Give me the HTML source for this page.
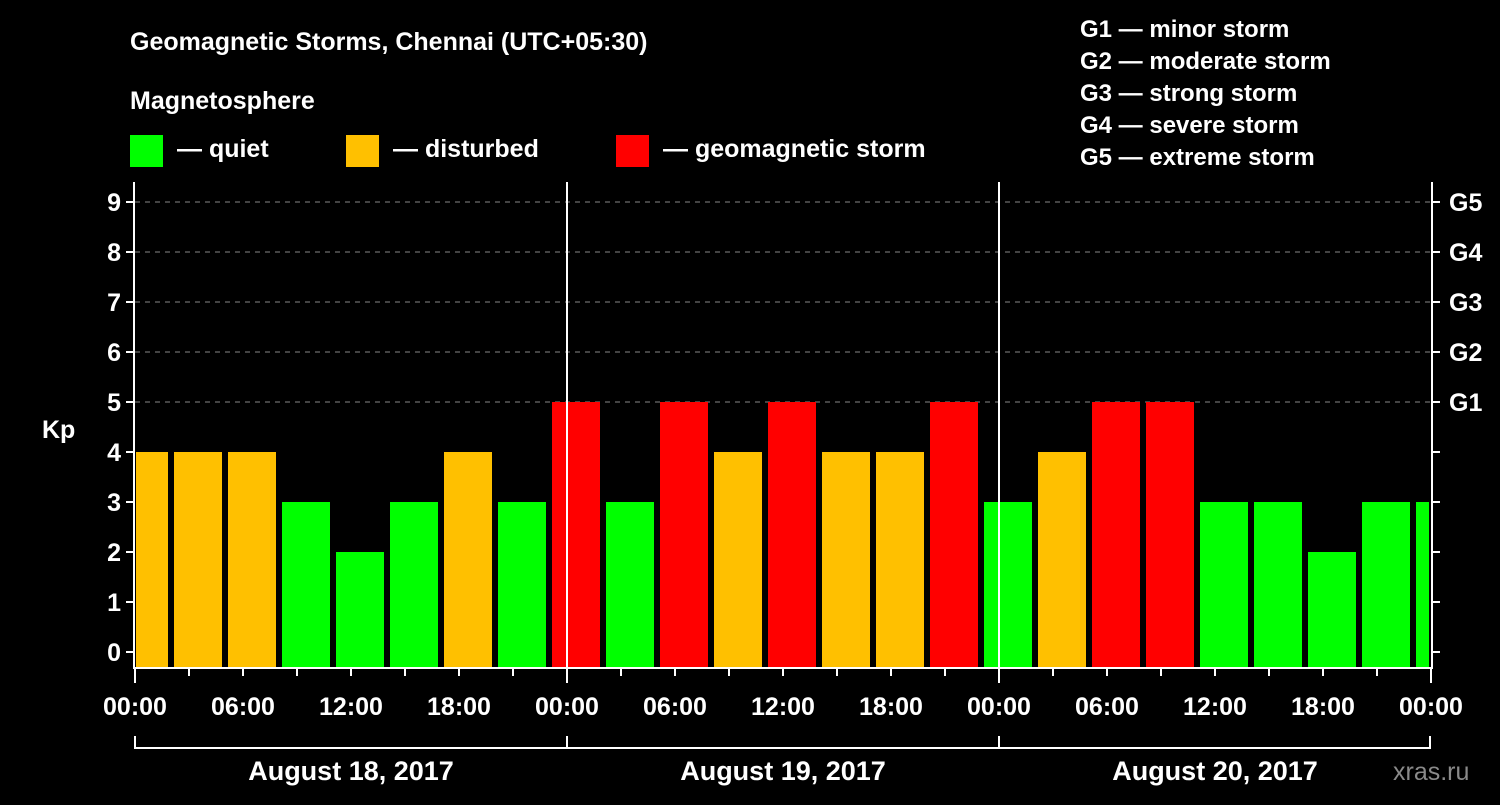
<!DOCTYPE html>
<html><head><meta charset="utf-8"><style>
body{margin:0;background:#000;width:1500px;height:800px;overflow:hidden}
svg text{font-family:"Liberation Sans",sans-serif;font-weight:bold;fill:#fff}
</style></head><body>
<svg id="chart" width="1500" height="800" viewBox="0 0 1500 800">
<text x="130" y="50" font-size="25">Geomagnetic Storms, Chennai (UTC+05:30)</text>
<text x="130" y="109" font-size="25">Magnetosphere</text>
<g>
<rect x="130" y="135" width="33" height="32" fill="#00ff00"/>
<text x="177" y="157" font-size="25">— quiet</text>
<rect x="346" y="135" width="33" height="32" fill="#ffc000"/>
<text x="393" y="157" font-size="25">— disturbed</text>
<rect x="616" y="135" width="33" height="32" fill="#ff0000"/>
<text x="663" y="157" font-size="25">— geomagnetic storm</text>
</g>
<g font-size="24">
<text x="1080" y="37">G1 — minor storm</text>
<text x="1080" y="69">G2 — moderate storm</text>
<text x="1080" y="101">G3 — strong storm</text>
<text x="1080" y="133">G4 — severe storm</text>
<text x="1080" y="165">G5 — extreme storm</text>
</g>
<text x="42" y="438" font-size="25">Kp</text>
<text x="1393" y="780" font-size="25" fill="#888" style="fill:#8a8a8a;font-weight:normal">xras.ru</text>
<g id="plot"></g>
</svg>
<script>
const kpValues=[4,4,4,3,2,3,4,3, 5,3,5,4,5,4,4,5, 3,4,5,5,3,3,2,3, 3];
const yTicks=[0,1,2,3,4,5,6,7,8,9];
const gLabels=["G1","G2","G3","G4","G5"];
const gLevels=[5,6,7,8,9];
const xTickLabels=["00:00","06:00","12:00","18:00","00:00","06:00","12:00","18:00","00:00","06:00","12:00","18:00","00:00"];
const dayLabels=["August 18, 2017","August 19, 2017","August 20, 2017"];
const NS="http://www.w3.org/2000/svg";
const X0=135,X1=1431,PX_H=18,Y0=652,PX_K=50,TOP=182,BOT=668;
const xs=h=>X0+h*PX_H, ys=k=>Y0-k*PX_K;
const g=document.getElementById('plot');
function mk(t,a,p){const e=document.createElementNS(NS,t);for(const k in a)e.setAttribute(k,a[k]);(p||g).appendChild(e);return e;}
// grid
gLevels.forEach(k=>{const l=mk('line',{x1:X0,x2:X1,y1:ys(k),y2:ys(k),stroke:'#888','stroke-dasharray':'5,5','stroke-width':1});

});
// bars
kpValues.forEach((v,i)=>{const l=Math.max(xs(3*i)-15,X0+1),r=Math.min(xs(3*i)+33,X1-2);
const c=v>=5?'#ff0000':v>=4?'#ffc000':'#00ff00';
const b=mk('rect',{x:l,y:ys(v),width:r-l,height:BOT-ys(v),fill:c});

});
// day dividers
[1,2].forEach(d=>{const l=mk('line',{x1:xs(24*d),x2:xs(24*d),y1:TOP,y2:BOT,stroke:'#fff','stroke-width':2});

});
// frame
const f=mk('path',{d:`M${X0-1} ${TOP}V${BOT}H${X1+1}V${TOP}`,fill:'none',stroke:'#fff','stroke-width':2});


// y ticks
yTicks.forEach(k=>{const y=ys(k);
const t1=mk('line',{x1:X0-9,x2:X0,y1:y,y2:y,stroke:'#fff','stroke-width':2});


const t2=mk('line',{x1:X1,x2:X1+9,y1:y,y2:y,stroke:'#fff','stroke-width':2});


const tx=mk('text',{x:X0-14,y:y+9,'font-size':25,'text-anchor':'end'});tx.textContent=k;

});
gLevels.forEach((k,i)=>{const tx=mk('text',{x:X1+18,y:ys(k)+9,'font-size':25});tx.textContent=gLabels[i];

});
// x ticks
for(let h=0;h<=72;h+=3){const big=h%24===0;
const t=mk('line',{x1:xs(h),x2:xs(h),y1:BOT,y2:BOT+(big?15:8),stroke:'#fff','stroke-width':2});

}
xTickLabels.forEach((s,i)=>{const tx=mk('text',{x:xs(6*i),y:715,'font-size':25,'text-anchor':'middle'});tx.textContent=s;

});
// day bracket
const br=mk('path',{d:`M${X0} 736V748H${X1-1}V736`,fill:'none',stroke:'#fff','stroke-width':2});


[1,2].forEach(d=>{const l=mk('line',{x1:xs(24*d),x2:xs(24*d),y1:736,y2:748,stroke:'#fff','stroke-width':2});

});
dayLabels.forEach((s,i)=>{const tx=mk('text',{x:xs(24*i+12),y:780,'font-size':27,'text-anchor':'middle'});tx.textContent=s;

});
</script>
</body></html>
